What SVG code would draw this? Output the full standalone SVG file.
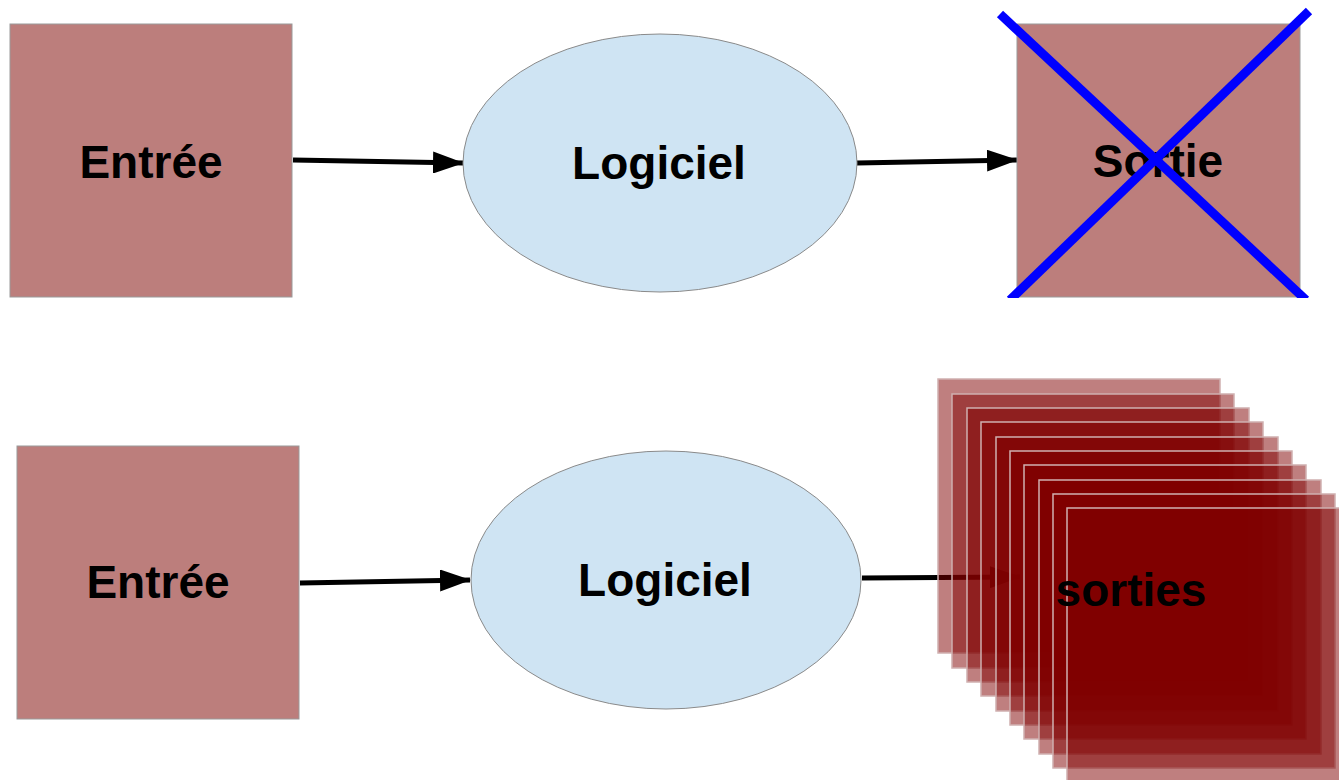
<svg xmlns="http://www.w3.org/2000/svg" width="1339" height="780" viewBox="0 0 1339 780">
<defs>
<style>
.box{fill:#bc7e7c;stroke:#9a9a9a;stroke-width:1}
.ell{fill:#cfe4f3;stroke:#8a8a8a;stroke-width:1}
.stk{fill:#800000;fill-opacity:0.5;stroke:#d0b0b0;stroke-width:1.5}
.lbl{font-family:"Liberation Sans",Arial,sans-serif;font-weight:bold;font-size:46px;fill:#000;text-anchor:middle}
.con{stroke:#000;stroke-width:5;fill:none;marker-end:url(#ah)}
.cross{stroke:#0000ff;stroke-width:9;stroke-linecap:butt}
</style>
<marker id="ah" viewBox="0 0 31 22" refX="30" refY="11" markerWidth="31" markerHeight="22" markerUnits="userSpaceOnUse" orient="auto" preserveAspectRatio="none">
<path d="M0,0 L31,11 L0,22 z" fill="#000"/>
</marker>
<clipPath id="clipTop"><rect x="0" y="0" width="1339" height="298"/></clipPath>
</defs>
<rect width="1339" height="780" fill="#fff"/>
<g id="connectors">
<line class="con" x1="293" y1="160" x2="463" y2="163"/>
<line class="con" x1="857" y1="163" x2="1017" y2="160"/>
<line class="con" x1="300" y1="583" x2="470" y2="580"/>
<line class="con" x1="862" y1="578" x2="1020" y2="577"/>
</g>
<g id="entree1">
<rect class="box" x="10" y="24" width="282" height="273"/>
<text class="lbl" x="151" y="178">Entrée</text>
</g>
<g id="logiciel1">
<ellipse class="ell" cx="660" cy="163" rx="197" ry="129"/>
<text class="lbl" x="659" y="179">Logiciel</text>
</g>
<g id="sortie">
<rect class="box" x="1017" y="24" width="283" height="273"/>
<text class="lbl" x="1158" y="177">Sortie</text>
<g clip-path="url(#clipTop)">
<line class="cross" x1="1000" y1="14" x2="1306" y2="300"/>
<line class="cross" x1="1309" y1="11" x2="1010" y2="300"/>
</g>
</g>
<g id="entree2">
<rect class="box" x="17" y="446" width="282" height="273"/>
<text class="lbl" x="158" y="598">Entrée</text>
</g>
<g id="logiciel2">
<ellipse class="ell" cx="666" cy="580" rx="195" ry="129"/>
<text class="lbl" x="665" y="596">Logiciel</text>
</g>
<g id="sorties">
<rect class="stk" x="938" y="379" width="282" height="274"/>
<rect class="stk" x="952" y="394" width="282" height="274"/>
<rect class="stk" x="967" y="408" width="282" height="274"/>
<rect class="stk" x="981" y="422" width="282" height="274"/>
<rect class="stk" x="996" y="437" width="282" height="274"/>
<rect class="stk" x="1010" y="451" width="282" height="274"/>
<rect class="stk" x="1024" y="465" width="282" height="274"/>
<rect class="stk" x="1039" y="480" width="282" height="274"/>
<rect class="stk" x="1053" y="494" width="282" height="274"/>
<rect class="stk" x="1067" y="508" width="282" height="274"/>
<text class="lbl" x="1131" y="606">sorties</text>
</g>
</svg>
